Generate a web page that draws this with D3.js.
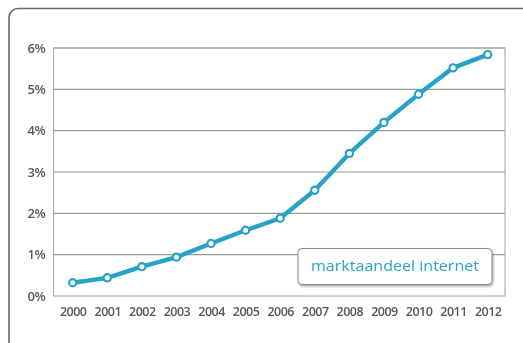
<!DOCTYPE html>
<html>
<head>
<meta charset="utf-8">
<script src="https://cdn.jsdelivr.net/npm/d3@7"></script>
<style>
  html, body { margin: 0; padding: 0; background: #fff; }
  svg { display: block; }
</style>
</head>
<body>
<div id="chart"></div>
<script>
// Market share of internet sales, 2000–2012 (percent)
const years = ["2000","2001","2002","2003","2004","2005","2006","2007","2008","2009","2010","2011","2012"];
const share = [0.32, 0.44, 0.71, 0.94, 1.27, 1.59, 1.88, 2.56, 3.45, 4.2, 4.88, 5.52, 5.84];
const yTicks = [0, 1, 2, 3, 4, 5, 6];
const legendLabel = "marktaandeel internet";

const W = 523, H = 343;
const plot = { left: 53.5, right: 505, top: 48, bottom: 296 };
const lineColor = "#2aa2c8";

const svg = d3.select("#chart").append("svg")
  .attr("width", W).attr("height", H);

const defs = svg.append("defs");
const shadow = defs.append("filter").attr("id", "shadow")
  .attr("x", "-10%").attr("y", "-30%").attr("width", "120%").attr("height", "160%");
shadow.append("feDropShadow").attr("dx", 1).attr("dy", 1.5)
  .attr("stdDeviation", 1.2).attr("flood-color", "#000").attr("flood-opacity", 0.35);
const glow = defs.append("filter").attr("id", "glow")
  .attr("x", "-5%").attr("y", "-5%").attr("width", "110%").attr("height", "110%");
glow.append("feGaussianBlur").attr("stdDeviation", 0.5);
const soft = defs.append("filter").attr("id", "soft");
soft.append("feGaussianBlur").attr("stdDeviation", 0.35);

// outer frame
svg.append("rect")
  .attr("x", 9).attr("y", 8.5).attr("width", W + 20).attr("height", H + 20)
  .attr("rx", 9).attr("fill", "#fff").attr("stroke", "#6a6a6a").attr("stroke-width", 1.6);

const x = d3.scalePoint().domain(years).range([72.7, 487.7]);
const y = d3.scaleLinear().domain([0, 6]).range([plot.bottom, plot.top]);

// horizontal gridlines
svg.append("g")
  .selectAll("line").data(yTicks.slice(1)).join("line")
  .attr("x1", plot.left).attr("x2", plot.right)
  .attr("y1", d => y(d)).attr("y2", d => y(d))
  .attr("stroke", "#9a9a9a").attr("stroke-width", 1.1);

// plot border
svg.append("rect")
  .attr("x", plot.left).attr("y", plot.top)
  .attr("width", plot.right - plot.left).attr("height", plot.bottom - plot.top)
  .attr("fill", "none").attr("stroke", "#a8a8a8").attr("stroke-width", 1.1);

// y axis labels
const yAxis = d3.axisLeft(y).tickValues(yTicks).tickSize(0).tickPadding(8)
  .tickFormat(d => d + "%");
svg.append("g").attr("transform", `translate(${plot.left},0)`).call(yAxis)
  .call(g => g.select(".domain").remove())
  .attr("filter", "url(#soft)")
  .selectAll("text")
  .attr("font-family", "'Open Sans', sans-serif")
  .attr("font-size", 13).attr("font-weight", 600)
  .attr("letter-spacing", "-0.3px")
  .attr("fill", "#585858").attr("dy", "0.32em");

// x axis labels
const xAxis = d3.axisBottom(x).tickSize(0).tickPadding(11);
svg.append("g").attr("transform", `translate(0,${plot.bottom})`).call(xAxis)
  .call(g => g.select(".domain").remove())
  .attr("filter", "url(#soft)")
  .selectAll("text")
  .attr("font-family", "'Open Sans', sans-serif")
  .attr("font-size", 12.5).attr("font-weight", 600)
  .attr("letter-spacing", "-0.5px")
  .attr("fill", "#585858");

// series line
const line = d3.line().x((d, i) => x(years[i])).y(d => y(d));
const series = svg.append("g").attr("filter", "url(#glow)");
series.append("path").datum(share)
  .attr("d", line).attr("fill", "none")
  .attr("stroke", lineColor).attr("stroke-width", 4.4)
  .attr("stroke-linejoin", "round").attr("stroke-linecap", "round");

series.selectAll("circle").data(share).join("circle")
  .attr("cx", (d, i) => x(years[i])).attr("cy", d => y(d))
  .attr("r", 3.6).attr("fill", "#fff")
  .attr("stroke", lineColor).attr("stroke-width", 2.2);

// legend
const lg = svg.append("g");
lg.append("rect")
  .attr("x", 298).attr("y", 248.5).attr("width", 194).attr("height", 36)
  .attr("rx", 4).attr("fill", "#fff").attr("stroke", "#888").attr("stroke-width", 1)
  .attr("filter", "url(#shadow)");
lg.append("text")
  .attr("x", 395).attr("y", 271)
  .attr("text-anchor", "middle")
  .attr("font-family", "'Open Sans', sans-serif")
  .attr("font-size", 14).attr("fill", lineColor)
  .attr("textLength", 168).attr("lengthAdjust", "spacingAndGlyphs")
  .attr("filter", "url(#soft)")
  .text(legendLabel);
</script>
</body>
</html>
